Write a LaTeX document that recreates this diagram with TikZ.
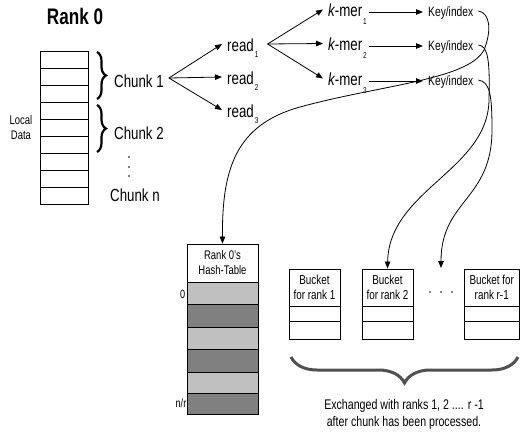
\documentclass[tikz,border=0pt]{standalone}
\usepackage{fontspec}
\setmainfont[FakeStretch=0.76]{Liberation Sans}
\usetikzlibrary{arrows.meta,decorations.pathreplacing,calc}
\definecolor{lightgr}{HTML}{C0C0C0}
\definecolor{darkgr}{HTML}{808080}
\definecolor{braceg}{HTML}{505050}
\newcommand\fsz[2]{\fontsize{#1}{#2}\selectfont}
\newcommand\lowsub[2]{\raisebox{#1}{\fsz{8.5}{9}#2}}
\begin{document}
\begin{tikzpicture}[x=1pt,y=-1pt,
  lbl/.style={inner sep=0pt,anchor=base west},
  arr/.style={line width=0.8pt,-{Triangle[length=7pt,width=5.5pt]}},
  cellbox/.style={draw,line width=0.9pt},
  hdr/.style={draw,line width=0.9pt,inner sep=0pt,align=center,fill=white},
  curlyb/.style={decorate,decoration={brace,amplitude=9pt},line width=2.2pt},
  big/.style={font=\fsz{17.5}{20}},
  keyf/.style={font=\fsz{13.5}{15}}
]
\fill[white] (0,0) rectangle (520,434);
\useasboundingbox (0,0) rectangle (520,434);

% Rank 0 and local data
\node[font=\bfseries\fsz{22.5}{26},inner sep=0pt] (rank) at (75,16) {Rank 0};
\foreach \i in {0,...,8}
  \draw[cellbox] (40,{51+17*\i}) rectangle (88,{68+17*\i});
\node[font=\fsz{12.5}{15},align=center,inner sep=0pt] (local) at (21,128) {Local\\Data};

% chunk braces and labels
\draw[curlyb] (97,52) -- (97,99);
\draw[curlyb] (97,105) -- (97,152);
\node[lbl,big] (chunk1) at (114,87) {Chunk 1};
\node[lbl,big] (chunk2) at (114,139) {Chunk 2};
\node[lbl,big] (chunkn) at (110,201) {Chunk n};
\foreach \y in {157,167,176} \fill (129,\y) circle (0.9);

% reads
\node[lbl,big] (read1) at (227,51) {read\kern1pt\lowsub{-6pt}{1}};
\node[lbl,big] (read2) at (227,84) {read\kern1pt\lowsub{-6pt}{2}};
\node[lbl,big] (read3) at (227,117) {read\kern1pt\lowsub{-6pt}{3}};
\coordinate (fork1) at ($(chunk1.base east)+(5,-9)$);
\foreach \n in {1,2,3} \draw[arr] (fork1) -- ($(read\n.base west)+(-5,-7)$);

% k-mers
\node[lbl,big] (kmer1) at (328,16) {{\itshape k}-mer\kern1pt\lowsub{-8pt}{1}};
\node[lbl,big] (kmer2) at (328,50) {{\itshape k}-mer\kern1pt\lowsub{-8pt}{2}};
\node[lbl,big] (kmer3) at (328,85) {{\itshape k}-mer\kern1pt\lowsub{-8pt}{3}};
\coordinate (fork2) at ($(read1.base east)+(9,-7)$);
\foreach \n in {1,2,3} \draw[arr] (fork2) -- ($(kmer\n.base west)+(-5,-6.5)$);

% keys
\node[lbl,keyf] (key1) at (428,16) {Key/index};
\node[lbl,keyf] (key2) at (428,50) {Key/index};
\node[lbl,keyf] (key3) at (428,85) {Key/index};
\foreach \n in {1,2,3} \draw[arr] ($(kmer\n.base east)+(2,-4)$) -- ($(key\n.base west)+(-5,-4)$);

% hash table
\node[hdr,font=\fsz{12.5}{15},minimum width=71pt,minimum height=38pt] (ht) at (222.5,263) {Rank 0's\\Hash-Table};
\foreach \a/\b/\c in {282/304/lightgr,304/327/darkgr,327/349/lightgr,349/372/darkgr,372/393/lightgr,393/414/darkgr}
  \draw[cellbox,fill=\c] (187,\a) rectangle (258,\b);
\node[anchor=east,inner sep=0pt,font=\fsz{12}{13}] (zero) at (185.5,294) {0};
\node[anchor=east,inner sep=0pt,font=\fsz{12}{13}] (nr) at (186.5,403) {n/r};

% buckets
\node[hdr,font=\fsz{13}{15},minimum width=51pt,minimum height=37pt] (b1) at (314.5,287.5) {Bucket\\for rank 1};
\node[hdr,font=\fsz{13}{15},minimum width=51pt,minimum height=37pt] (b2) at (387.5,287.5) {Bucket\\for rank 2};
\node[hdr,font=\fsz{13}{15},minimum width=55.5pt,minimum height=37pt] (br) at (491.75,287.5) {Bucket for\\rank r-1};
\foreach \x/\w in {289/340,362/413,464/519.5} {
  \draw[cellbox] (\x,306) rectangle (\w,321);
  \draw[cellbox] (\x,321) rectangle (\w,339);
}
\foreach \x in {430,441,452} \fill (\x,292) circle (0.9);
\coordinate (dtop) at (441,268);

% curves
\draw[arr] ($(key1.base east)+(5,-5)$) .. controls (490,13) and (492,30) .. (484,50)
  .. controls (468,80) and (380,85) .. (300,107)
  .. controls (235,125) and (222,170) .. (ht.north);
\draw[arr] ($(key2.base east)+(5,-5)$) .. controls (488,46) and (490,60) .. (489,100)
  .. controls (488,170) and (389,190) .. (b2.north);
\draw[arr] ($(key3.base east)+(5,-5)$) .. controls (490,82) and (492,95) .. (492,130)
  .. controls (492,200) and (441,200) .. (dtop);

% big brace and caption
\draw[decorate,decoration={brace,mirror,amplitude=26pt},line width=3pt,color=braceg] (291,357) -- (518,357);
\node[font=\fsz{14}{17},align=center,inner sep=0pt] (exch) at (404,414) {Exchanged with ranks 1, 2 .... r -1\\after chunk has been processed.};
\end{tikzpicture}
\end{document}
